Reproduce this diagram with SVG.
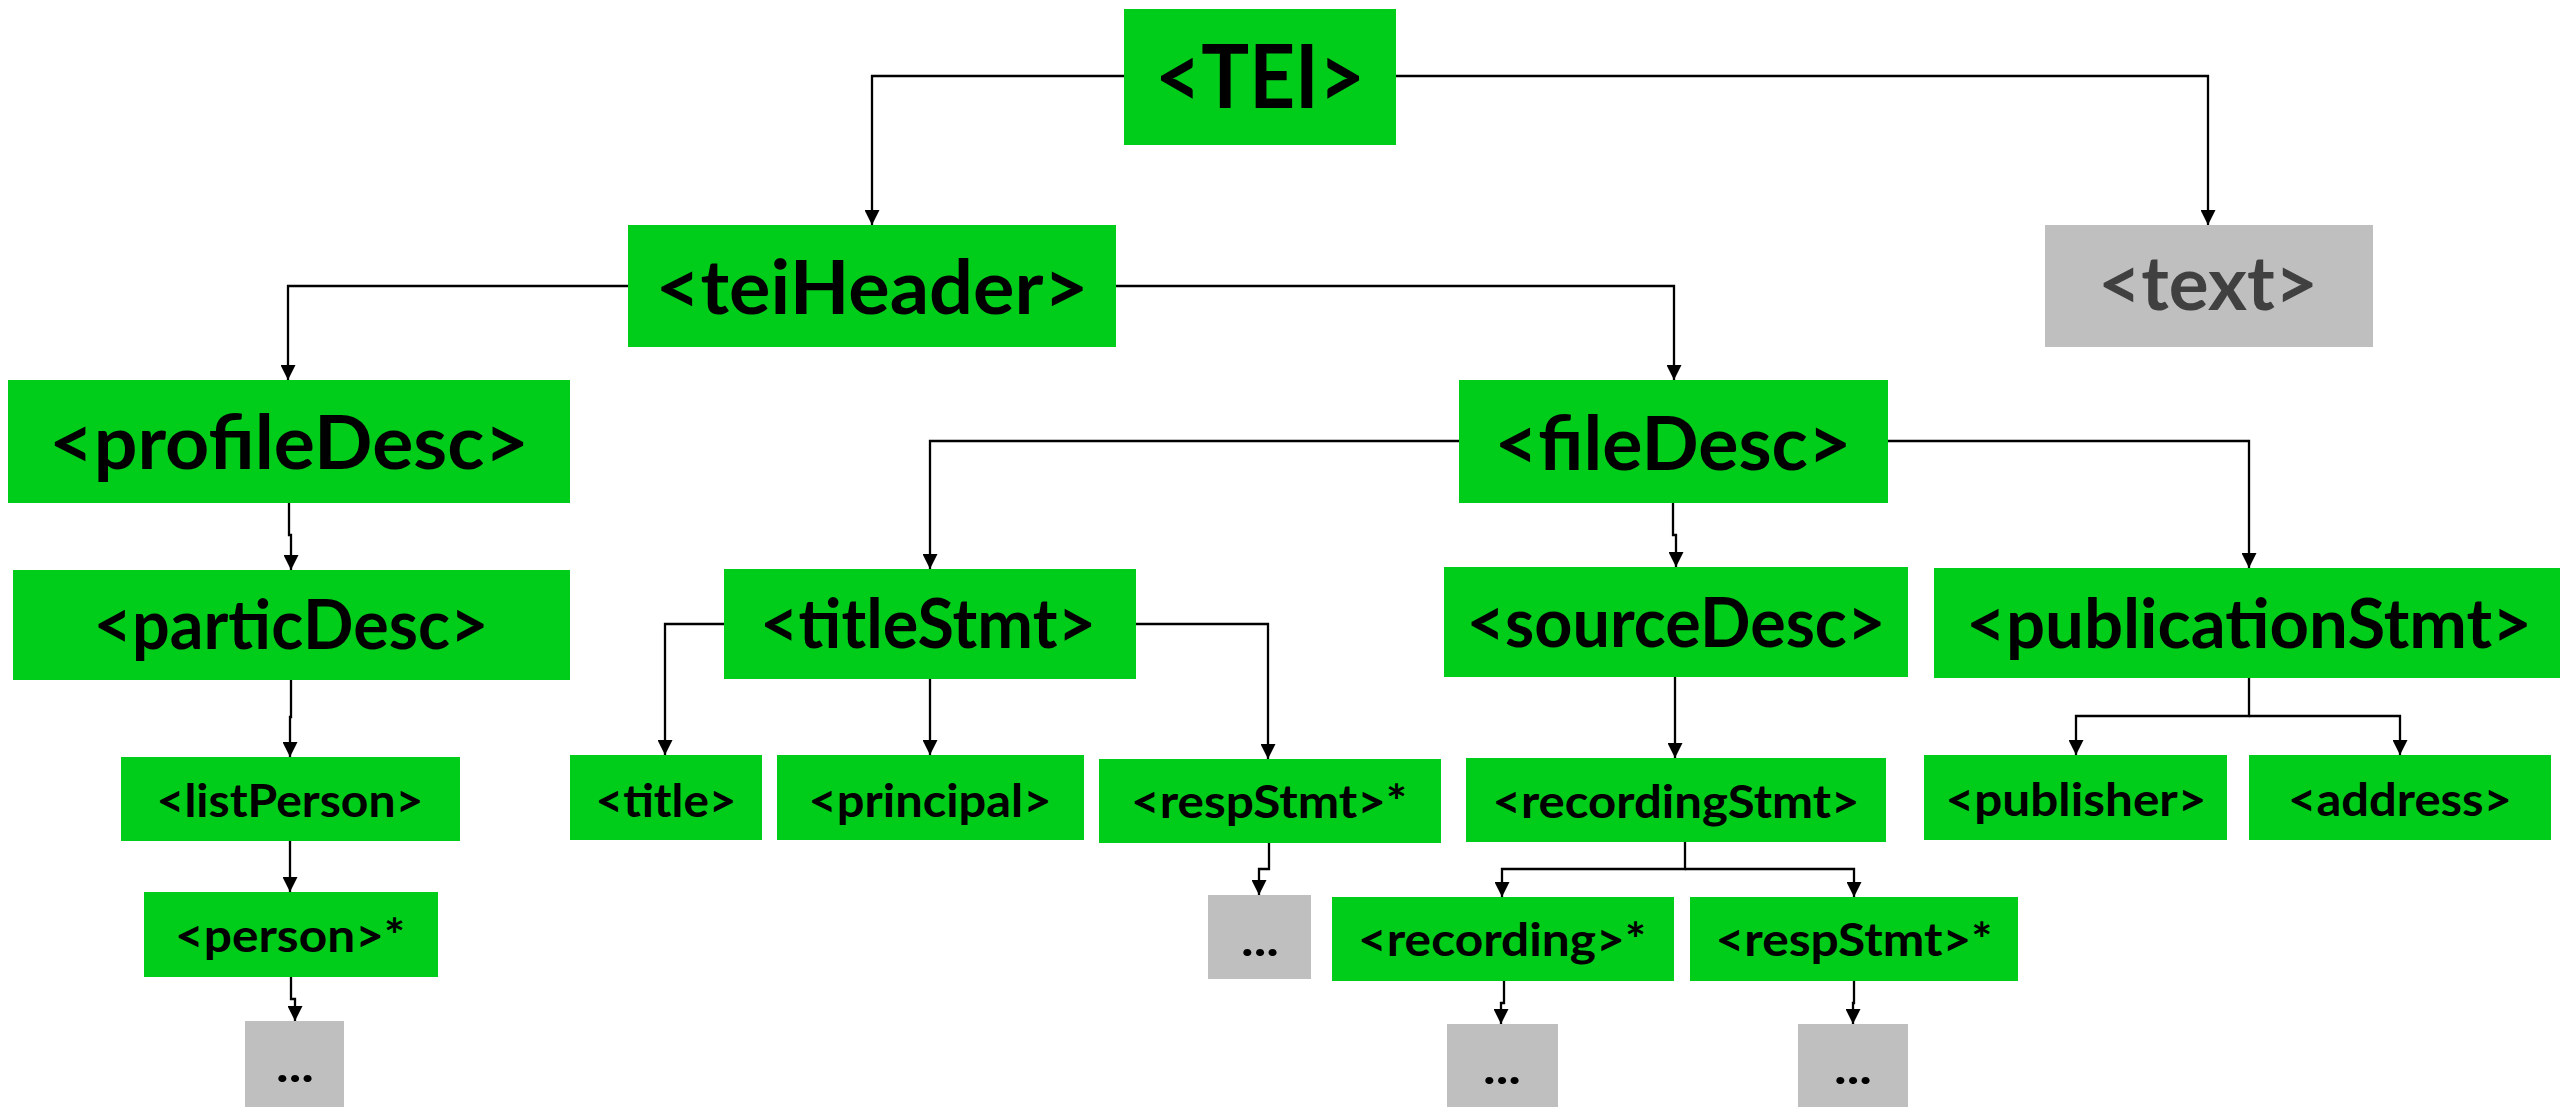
<svg xmlns="http://www.w3.org/2000/svg" width="2560" height="1107" viewBox="0 0 2560 1107">
<style>
.g{fill:#00CC1A}
.n{fill:#BFBFBF}
.t{font-family:Lato,"Open Sans","Liberation Sans",sans-serif;font-weight:bold;fill:#000;text-anchor:middle}
.tg{fill:#404040}
.xl{font-size:88px}
.l{font-size:75px}
.m{font-size:68px}
.s{font-size:45px}
.c{fill:none;stroke:#000;stroke-width:2.3;marker-end:url(#ah)}
</style>
<defs>
<marker id="ah" markerUnits="userSpaceOnUse" markerWidth="15" markerHeight="15" refX="15" refY="7.5" orient="auto" viewBox="0 0 15 15">
<path d="M0,0 L15,7.5 L0,15 z" fill="#000"/>
</marker>
</defs>
<rect width="2560" height="1107" fill="#fff"/>
<g id="connectors">
<path class="c" d="M1124,76 H872 V225"/>
<path class="c" d="M1396,76 H2208 V225"/>
<path class="c" d="M628,286 H288 V380"/>
<path class="c" d="M1116,286 H1674 V380"/>
<path class="c" d="M289,503 V535 H291 V570"/>
<path class="c" d="M1459,441 H930 V569"/>
<path class="c" d="M1673,503 V535 H1676 V567"/>
<path class="c" d="M1888,441 H2249 V568"/>
<path class="c" d="M291,680 V717 H290 V757"/>
<path class="c" d="M290,841 V892"/>
<path class="c" d="M291,977 V999 H295 V1021"/>
<path class="c" d="M724,624 H665 V755"/>
<path class="c" d="M930,679 V755"/>
<path class="c" d="M1136,624 H1268 V759"/>
<path class="c" d="M1269,843 V869 H1259 V895"/>
<path class="c" d="M1675,677 V758"/>
<path class="c" d="M2249,678 V716 H2076 V755"/>
<path class="c" d="M2249,716 H2400 V755"/>
<path class="c" d="M1685,842 V869 H1502 V897"/>
<path class="c" d="M1685,869 H1854 V897"/>
<path class="c" d="M1504,981 V1003 H1501 V1024"/>
<path class="c" d="M1854,981 V1003 H1853 V1024"/>
</g>
<g id="n-TEI"><rect class="g" x="1124" y="9" width="272" height="136"/><text class="t xl" x="1260" y="108" textLength="210" lengthAdjust="spacingAndGlyphs">&lt;TEI&gt;</text></g>
<g id="n-teiHeader"><rect class="g" x="628" y="225" width="488" height="122"/><text class="t l" x="872" y="314" textLength="433" lengthAdjust="spacingAndGlyphs">&lt;teiHeader&gt;</text></g>
<g id="n-text"><rect class="n" x="2045" y="225" width="328" height="122"/><text class="t l tg" x="2208" y="310" textLength="220" lengthAdjust="spacingAndGlyphs">&lt;text&gt;</text></g>
<g id="n-profileDesc"><rect class="g" x="8" y="380" width="562" height="123"/><text class="t l" x="289" y="469" textLength="480" lengthAdjust="spacingAndGlyphs">&lt;profileDesc&gt;</text></g>
<g id="n-fileDesc"><rect class="g" x="1459" y="380" width="429" height="123"/><text class="t l" x="1673" y="470" textLength="357" lengthAdjust="spacingAndGlyphs">&lt;fileDesc&gt;</text></g>
<g id="n-particDesc"><rect class="g" x="13" y="570" width="557" height="110"/><text class="t m" x="291" y="649" textLength="395" lengthAdjust="spacingAndGlyphs">&lt;particDesc&gt;</text></g>
<g id="n-titleStmt"><rect class="g" x="724" y="569" width="412" height="110"/><text class="t m" x="928" y="648" textLength="336" lengthAdjust="spacingAndGlyphs">&lt;titleStmt&gt;</text></g>
<g id="n-sourceDesc"><rect class="g" x="1444" y="567" width="464" height="110"/><text class="t m" x="1676" y="647" textLength="419" lengthAdjust="spacingAndGlyphs">&lt;sourceDesc&gt;</text></g>
<g id="n-publicationStmt"><rect class="g" x="1934" y="568" width="626" height="110"/><text class="t m" x="2249" y="648" textLength="566" lengthAdjust="spacingAndGlyphs">&lt;publicationStmt&gt;</text></g>
<g id="n-listPerson"><rect class="g" x="121" y="757" width="339" height="84"/><text class="t s" x="290" y="817" textLength="267" lengthAdjust="spacingAndGlyphs">&lt;listPerson&gt;</text></g>
<g id="n-title"><rect class="g" x="570" y="755" width="192" height="85"/><text class="t s" x="666" y="817" textLength="141" lengthAdjust="spacingAndGlyphs">&lt;title&gt;</text></g>
<g id="n-principal"><rect class="g" x="777" y="755" width="307" height="85"/><text class="t s" x="930" y="817" textLength="243" lengthAdjust="spacingAndGlyphs">&lt;principal&gt;</text></g>
<g id="n-respStmt1"><rect class="g" x="1099" y="759" width="342" height="84"/><text class="t s" x="1269" y="818" textLength="276" lengthAdjust="spacingAndGlyphs">&lt;respStmt&gt;*</text></g>
<g id="n-recordingStmt"><rect class="g" x="1466" y="758" width="420" height="84"/><text class="t s" x="1676" y="818" textLength="367" lengthAdjust="spacingAndGlyphs">&lt;recordingStmt&gt;</text></g>
<g id="n-publisher"><rect class="g" x="1924" y="755" width="303" height="85"/><text class="t s" x="2076" y="816" textLength="261" lengthAdjust="spacingAndGlyphs">&lt;publisher&gt;</text></g>
<g id="n-address"><rect class="g" x="2249" y="755" width="302" height="85"/><text class="t s" x="2400" y="816" textLength="224" lengthAdjust="spacingAndGlyphs">&lt;address&gt;</text></g>
<g id="n-person"><rect class="g" x="144" y="892" width="294" height="85"/><text class="t s" x="290" y="952" textLength="230" lengthAdjust="spacingAndGlyphs">&lt;person&gt;*</text></g>
<g id="n-etc1"><rect class="n" x="245" y="1021" width="99" height="86"/><text class="t s" x="295" y="1082" textLength="38" lengthAdjust="spacingAndGlyphs">...</text></g>
<g id="n-etc2"><rect class="n" x="1208" y="895" width="103" height="84"/><text class="t s" x="1260" y="956" textLength="38" lengthAdjust="spacingAndGlyphs">...</text></g>
<g id="n-recording"><rect class="g" x="1332" y="897" width="342" height="84"/><text class="t s" x="1502" y="956" textLength="288" lengthAdjust="spacingAndGlyphs">&lt;recording&gt;*</text></g>
<g id="n-respStmt2"><rect class="g" x="1690" y="897" width="328" height="84"/><text class="t s" x="1854" y="956" textLength="277" lengthAdjust="spacingAndGlyphs">&lt;respStmt&gt;*</text></g>
<g id="n-etc3"><rect class="n" x="1447" y="1024" width="111" height="83"/><text class="t s" x="1502" y="1084" textLength="38" lengthAdjust="spacingAndGlyphs">...</text></g>
<g id="n-etc4"><rect class="n" x="1798" y="1024" width="110" height="83"/><text class="t s" x="1853" y="1084" textLength="38" lengthAdjust="spacingAndGlyphs">...</text></g>
</svg>
